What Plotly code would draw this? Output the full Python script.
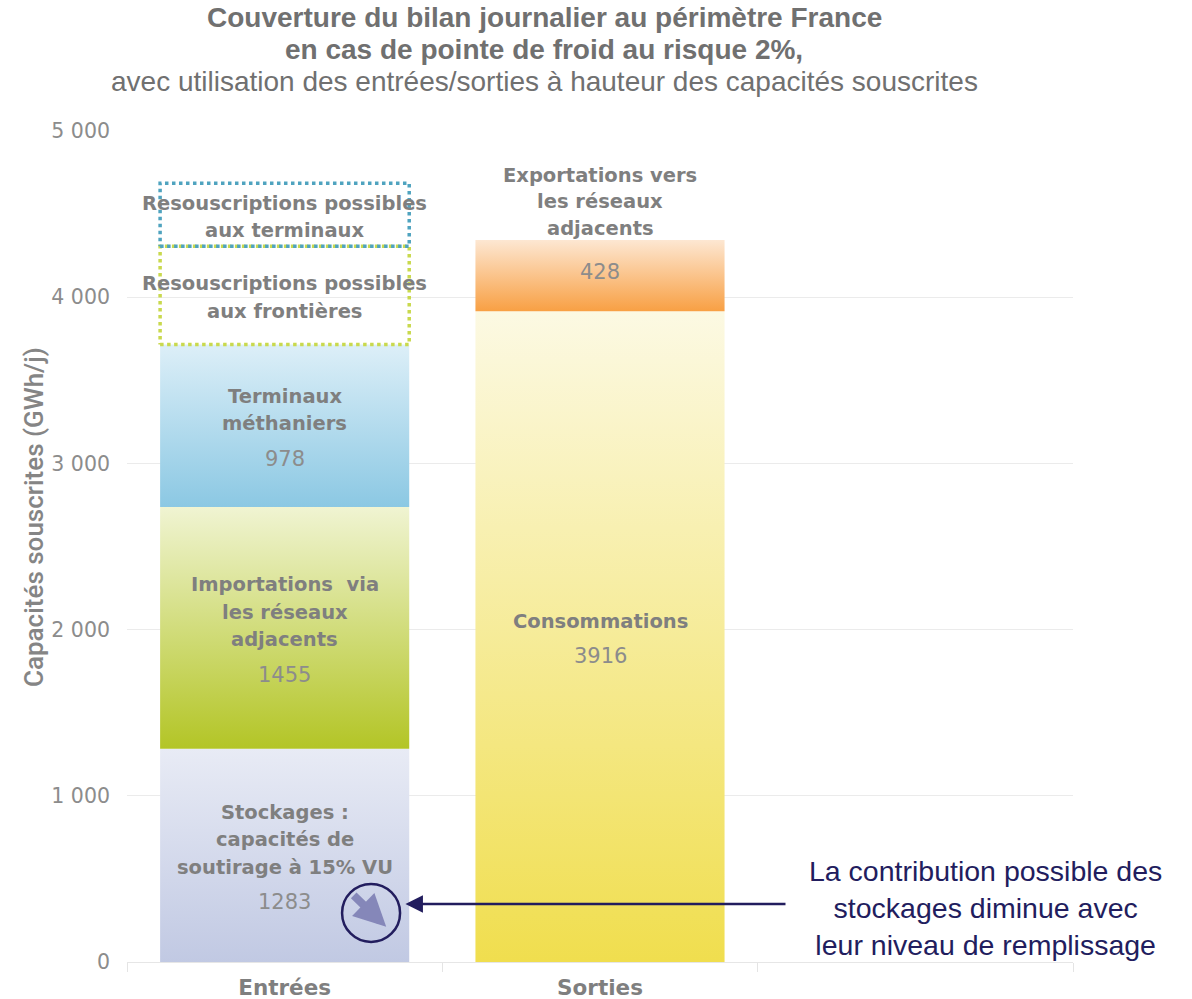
import plotly.graph_objects as go

# ---- data -------------------------------------------------------------
categories = ["Entrées", "Sorties"]

# Entrées stack (bottom -> top)
entrees_names = [
    ["Stockages :", "capacités de", "soutirage à 15% VU"],
    ["Importations  via", "les réseaux", "adjacents"],
    ["Terminaux", "méthaniers"],
]
entrees_values = [1283, 1455, 978]

# possible additional subscriptions, stacked above the Entrées bar
resousc_names = [
    ["Resouscriptions possibles", "aux frontières"],
    ["Resouscriptions possibles", "aux terminaux"],
]
resousc_values = [590, 380]

# Sorties stack (bottom -> top)
sorties_names = [["Consommations"], ["Exportations vers", "les réseaux", "adjacents"]]
sorties_values = [3916, 428]

y_ticks = [0, 1000, 2000, 3000, 4000, 5000]

title_lines = [
    "<b>Couverture du bilan journalier au périmètre France</b>",
    "<b>en cas de pointe de froid au risque 2%,</b>",
    "avec utilisation des entrées/sorties à hauteur des capacités souscrites",
]
y_title = "Capacités souscrites (GWh/j)"
note_text = "La contribution possible des<br>stockages diminue avec<br>leur niveau de remplissage"

# ---- styles -----------------------------------------------------------
entrees_colors = [("#c1c9e3", "#e8ebf5"), ("#b3c526", "#f0f4d2"), ("#8bc8e3", "#ddeff8")]
resousc_colors = ["#c9d94e", "#4fa3bf"]
sorties_colors = [("#f0de4e", "#fcf9e3"), ("#f8a044", "#fde7d2")]

HALF_W = 0.395
LABEL_FONT = dict(family="DejaVu Sans", size=19.5, color="#7f7f7f")
VALUE_FONT = dict(family="DejaVu Sans", size=21, color="#8c8c8c")
LINE_STEP = 27.5
VALUE_GAP = 35
PLOT_LEFT, PLOT_W = 127, 946   # pixel geometry of the plotting area
PLOT_TOP, PLOT_H = 131, 831

fig = go.Figure()


def px_to_paper_x(px):
    return (px - PLOT_LEFT) / PLOT_W


def px_to_paper_y(py):
    return 1 + (PLOT_TOP - py) / PLOT_H


def add_segment(xc, base, value, colors):
    x0, x1 = xc - HALF_W, xc + HALF_W
    y0, y1 = base, base + value
    fig.add_trace(go.Scatter(
        x=[x0, x1, x1, x0, x0], y=[y0, y0, y1, y1, y0],
        mode="lines", fill="toself",
        line=dict(width=0, color="rgba(0,0,0,0)"),
        fillgradient=dict(type="vertical",
                          colorscale=[[0, colors[0]], [1, colors[1]]]),
        hoverinfo="skip", showlegend=False,
    ))


def add_box(xc, base, value, color):
    x0, x1 = xc - HALF_W, xc + HALF_W
    y0, y1 = base, base + value
    fig.add_trace(go.Scatter(
        x=[x0, x1, x1, x0, x0], y=[y0, y0, y1, y1, y0],
        mode="lines", line=dict(color=color, width=3.5, dash="dot"),
        hoverinfo="skip", showlegend=False,
    ))


def add_block(xc, yc, lines, value=None):
    """Bold name lines followed by the value, centred on (xc, yc)."""
    offsets = [i * LINE_STEP for i in range(len(lines))]
    if value is not None:
        offsets.append(offsets[-1] + VALUE_GAP)
    mid = (offsets[0] + offsets[-1]) / 2 - 2
    texts = [f"<b>{t}</b>" for t in lines]
    fonts = [LABEL_FONT] * len(lines)
    if value is not None:
        texts.append(str(value))
        fonts.append(VALUE_FONT)
    for t, off, f in zip(texts, offsets, fonts):
        fig.add_annotation(x=xc, y=yc, xref="x", yref="y", text=t,
                           showarrow=False, font=f, yshift=-(off - mid))


# Entrées
base = 0
for names, val, cols in zip(entrees_names, entrees_values, entrees_colors):
    add_segment(0, base, val, cols)
    add_block(0, base + val / 2, names, val)
    base += val

for names, val, col in zip(resousc_names, resousc_values, resousc_colors):
    add_box(0, base, val, col)
    add_block(0, base + val / 2, names)
    base += val

# Sorties
base = 0
for i, (names, val, cols) in enumerate(zip(sorties_names, sorties_values, sorties_colors)):
    add_segment(1, base, val, cols)
    if i == len(sorties_values) - 1:
        # name written above the top segment, value inside it
        for k, t in enumerate(names):
            fig.add_annotation(x=1, y=base + val, xref="x", yref="y",
                               text=f"<b>{t}</b>", showarrow=False, font=LABEL_FONT,
                               yshift=12 + (len(names) - 1 - k) * 26.5)
        fig.add_annotation(x=1, y=base + val / 2, xref="x", yref="y",
                           text=str(val), showarrow=False, font=VALUE_FONT, yshift=4)
    else:
        add_block(1, base + val / 2, names, val)
    base += val

# ---- storage call-out --------------------------------------------------
NAVY = "#221d5e"
stock_val = entrees_values[0]
fig.add_shape(type="circle", xref="x", yref="y",
              xsizemode="pixel", ysizemode="pixel",
              xanchor=0.274, yanchor=stock_val * 0.23,
              x0=-29, x1=29, y0=-29, y1=29,
              line=dict(color=NAVY, width=2.5))
fig.add_annotation(x=0.322, y=stock_val * 0.165, xref="x", yref="y",
                   ax=-34, ay=-33, text="", showarrow=True,
                   arrowhead=2, arrowsize=0.8, arrowwidth=8,
                   arrowcolor="#8587b9")
fig.add_annotation(x=0.383, y=stock_val * 0.272, xref="x", yref="y",
                   ax=1.593, ay=stock_val * 0.272, axref="x", ayref="y",
                   text="", showarrow=True, arrowhead=2, arrowsize=1.4,
                   arrowwidth=2.5, arrowcolor=NAVY)
fig.add_annotation(x=px_to_paper_x(985), y=px_to_paper_y(908),
                   xref="paper", yref="paper", xanchor="center", yanchor="middle",
                   text=note_text, showarrow=False, align="center",
                   font=dict(family="Liberation Sans", size=28.5, color=NAVY))

# ---- title (three centred lines) ----------------------------------------
for text, yc in zip(title_lines, [18, 49, 82]):
    fig.add_annotation(x=px_to_paper_x(544), y=px_to_paper_y(yc),
                       xref="paper", yref="paper", xanchor="center", yanchor="middle",
                       text=text, showarrow=False,
                       font=dict(family="Liberation Sans", size=28, color="#707070"))

# ---- y-axis title -------------------------------------------------------
fig.add_annotation(x=px_to_paper_x(34), y=px_to_paper_y(517),
                   xref="paper", yref="paper", xanchor="center", yanchor="middle",
                   text=y_title, textangle=-90, showarrow=False,
                   font=dict(family="Roboto", size=26, color="#858585", weight=500))

# ---- layout ------------------------------------------------------------
fig.update_layout(
    width=1192, height=999,
    margin=dict(l=PLOT_LEFT, r=1192 - PLOT_LEFT - PLOT_W, t=PLOT_TOP,
                b=999 - PLOT_TOP - PLOT_H),
    paper_bgcolor="white", plot_bgcolor="white",
    separators=", ",
    xaxis=dict(
        range=[-0.5, 2.5], showgrid=False, zeroline=False, showline=False,
        automargin=False,
        tickvals=[0, 1], ticktext=categories, ticks="",
        tickfont=dict(family="DejaVu Sans", size=21.5, color="#7f7f7f", weight="bold"),
        ticklabelstandoff=10,
        minor=dict(tickvals=[-0.5, 0.5, 1.5, 2.5], ticks="outside",
                   ticklen=9, tickcolor="#e4e4e4", tickwidth=1, showgrid=False),
    ),
    yaxis=dict(
        range=[0, 5000], tickvals=y_ticks, tickformat=",d",
        automargin=False,
        showgrid=True, gridcolor="#ebebeb", gridwidth=1,
        zeroline=True, zerolinecolor="#e6e6e6", zerolinewidth=1,
        showline=False, ticks="",
        tickfont=dict(family="DejaVu Sans", size=20.5, color="#8c8c8c"),
        ticklabelstandoff=16,
    ),
)

fig.write_html("out.html")
